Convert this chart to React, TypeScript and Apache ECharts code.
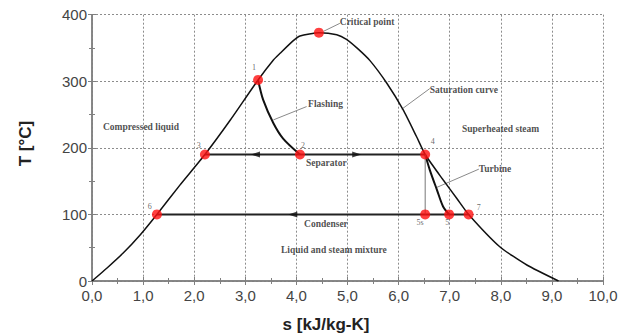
import React, { useEffect, useRef } from "react";
import * as echarts from "echarts";

// Saturation dome (s [kJ/kg-K], T [°C])
const saturationCurve: [number, number][] = [
  [0, 0], [0.3, 20], [0.61, 42], [0.95, 70], [1.27, 100], [1.72, 144], [2.21, 190],
  [2.7, 241], [3.25, 302], [3.55, 332], [3.68, 342], [3.94, 361], [4.07, 368], [4.44, 373],
  [4.79, 370], [4.98, 363], [5.2, 349], [5.44, 331], [5.77, 297], [6.09, 257], [6.35, 217],
  [6.52, 190], [6.87, 152], [7.14, 124], [7.37, 100], [7.98, 51.5], [8.51, 24], [9.13, 0],
];
const flashingCurve: [number, number][] = [
  [3.25, 302], [3.35, 272], [3.55, 237], [3.74, 214], [4.07, 190],
];
const turbineCurve: [number, number][] = [
  [6.52, 190], [6.61, 167], [6.75, 137], [6.87, 112], [6.99, 100],
];
const separatorLine: [number, number][] = [[2.21, 190], [6.52, 190]];
const condenserLine: [number, number][] = [[1.27, 100], [7.37, 100]];
const isentropicLine: [number, number][] = [[6.52, 190], [6.52, 100]];

const statePoints: [number, number][] = [
  [3.25, 302], [4.07, 190], [2.21, 190], [6.52, 190], [6.52, 100], [6.99, 100],
  [1.27, 100], [7.37, 100], [4.44, 373],
];
const stateNames = ["1", "2", "3", "4", "5s", "5", "6", "7"];
const stateNamePos: [number, number][] = [
  [3.17, 321], [4.13, 204], [2.09, 203], [6.67, 209], [6.42, 88.5], [6.95, 88.5],
  [1.13, 112.5], [7.57, 111],
];

// flow arrows: [s, T, direction] (1 = right, -1 = left)
const arrows: [number, number, number][] = [
  [3.2, 190, -1], [5.18, 190, 1], [3.93, 100, -1],
];

const regionTexts = [
  "Critical point", "Saturation curve", "Flashing", "Compressed liquid",
  "Superheated steam", "Separator", "Turbine", "Condenser", "Liquid and steam mixture",
];
const regionTextPos: [number, number][] = [
  [4.85, 389], [6.61, 287], [4.23, 266], [0.215, 231], [7.24, 228], [4.19, 177],
  [7.57, 168], [4.15, 85.5], [3.7, 46.5],
];
const leaderLines: [number, number][][] = [
  [[4.85, 387], [4.53, 375]],
  [[6.61, 289], [6.06, 258]],
  [[4.2, 262], [3.55, 242]],
  [[7.57, 168], [6.73, 140]],
];

const xTicks = { min: 0, max: 10, interval: 1 };
const yTicks = { min: 0, max: 400, interval: 100 };

export default function App() {
  const ref = useRef<HTMLDivElement>(null);
  useEffect(() => {
    if (!ref.current) return;
    const chart = echarts.init(ref.current, null, { renderer: "svg" });
    const axisLine = { show: true, lineStyle: { color: "#808080", width: 1.5 } };
    const tickLabel = { color: "#444", fontSize: 15, fontFamily: "Liberation Sans, Arial, sans-serif" };
    const lineSeries = (data: [number, number][], color: string, width: number, z = 2, smooth: number | boolean = false) => ({
      type: "line",
      data,
      showSymbol: false,
      symbol: "none",
      smooth,
      lineStyle: { color, width },
      z,
      silent: true,
    });
    const serif = "Liberation Serif, 'Times New Roman', serif";
    const tick = { show: true, inside: true, length: 4, lineStyle: { color: "#808080" } };
    const minor = { show: true, splitNumber: 2, length: 3, lineStyle: { color: "#808080" } };
    const grid = { show: true, lineStyle: { color: "#8c8c8c", type: [2, 2], width: 1 } };
    chart.setOption({
      animation: false,
      backgroundColor: "#fff",
      grid: { left: 92, right: 28, top: 14.7, bottom: 53, containLabel: false },
      xAxis: [
        {
          type: "value", ...xTicks, position: "bottom",
          axisLine, axisTick: tick, minorTick: minor, splitLine: grid,
          axisLabel: { ...tickLabel, margin: 7, formatter: (v: number) => v.toFixed(1).replace(".", ",") },
        },
        {
          type: "value", ...xTicks, position: "top",
          axisLine, axisTick: tick, minorTick: minor,
          splitLine: { show: false }, axisLabel: { show: false },
        },
      ],
      yAxis: [
        {
          type: "value", ...yTicks, position: "left",
          axisLine, axisTick: tick, minorTick: minor, splitLine: grid,
          axisLabel: { ...tickLabel, margin: 5 },
        },
        {
          type: "value", ...yTicks, position: "right",
          axisLine, axisTick: tick, minorTick: minor,
          splitLine: { show: false }, axisLabel: { show: false },
        },
      ],
      graphic: [
        {
          type: "text", x: 25, y: 143.5, rotation: Math.PI / 2,
          style: {
            text: "T [°C]", fill: "#222", font: "bold 17px 'Liberation Sans', Arial, sans-serif",
            textAlign: "center", textVerticalAlign: "middle",
          },
        },
        {
          type: "text", x: 326, y: 324,
          style: {
            text: "s [kJ/kg-K]", fill: "#222", font: "bold 17px 'Liberation Sans', Arial, sans-serif",
            textAlign: "center", textVerticalAlign: "middle",
          },
        },
      ],
      series: [
        lineSeries(saturationCurve, "#111", 1.5, 3, 0.2),
        lineSeries(flashingCurve, "#111", 2, 3, 0.3),
        lineSeries(turbineCurve, "#111", 2, 3, 0.3),
        lineSeries(separatorLine, "#222", 2, 3),
        lineSeries(condenserLine, "#222", 2, 3),
        lineSeries(isentropicLine, "#777", 1, 3),
        ...leaderLines.map((l) => lineSeries(l, "#8a8a8a", 1, 2)),
        {
          type: "scatter",
          data: arrows.map(([s, t, d]) => ({ value: [s, t], symbolRotate: d > 0 ? -90 : 90 })),
          symbol: "triangle",
          symbolSize: [6, 9],
          itemStyle: { color: "#111" },
          z: 4,
          silent: true,
        },
        {
          type: "scatter",
          data: statePoints,
          symbolSize: 10,
          itemStyle: { color: "#ff1010" },
          z: 5,
          silent: true,
        },
        {
          type: "scatter",
          data: stateNames.map((n, i) => ({ name: n, value: stateNamePos[i] })),
          symbolSize: 0.1,
          itemStyle: { color: "transparent" },
          label: {
            show: true, position: "inside", formatter: (p: any) => p.name,
            color: "#444", fontSize: 8, fontFamily: serif,
          },
          z: 6,
          silent: true,
        },
        {
          type: "scatter",
          data: regionTexts.map((n, i) => ({ name: n, value: regionTextPos[i] })),
          symbolSize: 0.1,
          itemStyle: { color: "transparent" },
          label: {
            show: true, position: [0, 0], align: "left", verticalAlign: "middle",
            formatter: (p: any) => p.name,
            color: "#222", fontSize: 9.5, fontWeight: "bold", fontFamily: serif,
          },
          z: 6,
          silent: true,
        },
      ],
    });
    return () => chart.dispose();
  }, []);
  return (
    <div
      ref={ref}
      style={{ position: "absolute", left: 0, top: 0, width: 631, height: 334, background: "#fff" }}
    />
  );
}
